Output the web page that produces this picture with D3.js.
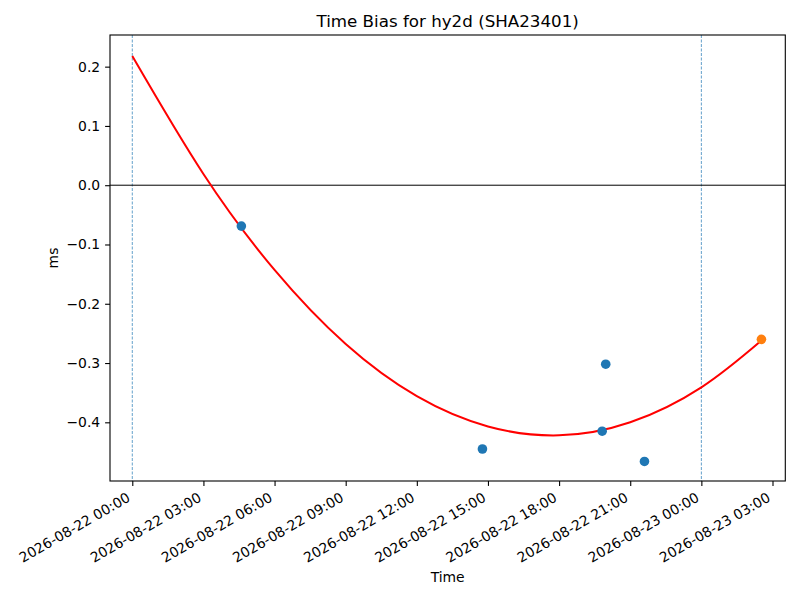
<!DOCTYPE html>
<html>
<head>
<meta charset="utf-8">
<script src="https://cdn.jsdelivr.net/npm/d3@7"></script>
<style>
  body { margin: 0; background: #fff; }
  svg, svg text { font-family: "DejaVu Sans", sans-serif; }
</style>
</head>
<body>
<div id="chart"></div>
<script>
// observations (UTC)
const pointTimes = ["2026-08-22T04:36", "2026-08-22T14:46", "2026-08-22T19:49", "2026-08-22T19:58", "2026-08-22T21:36"];
const pointValues = [-0.069, -0.445, -0.415, -0.302, -0.466];
const lastTime = "2026-08-23T02:32";
const lastValue = -0.260;

// fitted curve
const fitTimes = ["2026-08-22T00:00", "2026-08-22T03:00", "2026-08-22T06:00", "2026-08-22T09:00", "2026-08-22T12:00",
  "2026-08-22T15:00", "2026-08-22T18:00", "2026-08-22T21:00", "2026-08-23T00:00", "2026-08-23T02:32"];
const fitValues = [0.218, 0.019, -0.143, -0.268, -0.356, -0.407, -0.422, -0.400, -0.341, -0.262];

const vlines = ["2026-08-22T00:00", "2026-08-23T00:00"];
const xTicks = ["2026-08-22T00:00", "2026-08-22T03:00", "2026-08-22T06:00", "2026-08-22T09:00", "2026-08-22T12:00",
  "2026-08-22T15:00", "2026-08-22T18:00", "2026-08-22T21:00", "2026-08-23T00:00", "2026-08-23T03:00"];
const yTicks = [0.2, 0.1, 0.0, -0.1, -0.2, -0.3, -0.4];
const xDomain = ["2026-08-21T23:03.6", "2026-08-23T03:32.4"];
const yDomain = [-0.499, 0.2534];

const width = 800, height = 600,
    margin = ({ top: 35, right: 14.7, bottom: 119, left: 110 });

const parseT = s => {
  // minutes may be fractional in the domain strings
  const [d, t] = s.split("T");
  const [h, m] = t.split(":");
  return new Date(Date.UTC(+d.slice(0,4), +d.slice(5,7)-1, +d.slice(8,10), +h, 0) + (+m) * 60000);
};

const svg = d3.select("#chart")
  .append("svg")
  .attr("width", width)
  .attr("height", height);

const x = d3.scaleUtc()
  .domain(xDomain.map(parseT))
  .range([margin.left, width - margin.right]);

const y = d3.scaleLinear()
  .domain(yDomain)
  .range([height - margin.bottom, margin.top]);

const blue = "#1f77b4", orange = "#ff7f0e";

// reference lines
svg.append("g")
  .selectAll("line")
  .data(vlines.map(parseT))
  .join("line")
  .attr("x1", d => x(d)).attr("x2", d => x(d))
  .attr("y1", margin.top).attr("y2", height - margin.bottom)
  .attr("stroke", blue)
  .attr("stroke-width", 0.7)
  .attr("stroke-dasharray", "3,1.5");

svg.append("line")
  .attr("x1", margin.left).attr("x2", width - margin.right)
  .attr("y1", y(0)).attr("y2", y(0))
  .attr("stroke", "black")
  .attr("stroke-width", 1);

// fit curve
const fit = fitTimes.map((t, i) => [parseT(t), fitValues[i]]);
svg.append("path")
  .datum(fit)
  .attr("fill", "none")
  .attr("stroke", "red")
  .attr("stroke-width", 2)
  .attr("d", d3.line().x(d => x(d[0])).y(d => y(d[1])).curve(d3.curveNatural));

// points
svg.append("g")
  .attr("fill", blue)
  .selectAll("circle")
  .data(pointTimes.map((t, i) => [parseT(t), pointValues[i]]))
  .join("circle")
  .attr("cx", d => x(d[0]))
  .attr("cy", d => y(d[1]))
  .attr("r", 4.8);

svg.append("circle")
  .attr("cx", x(parseT(lastTime)))
  .attr("cy", y(lastValue))
  .attr("r", 4.8)
  .attr("fill", orange);

// axes
const fmt = d3.utcFormat("%Y-%m-%d %H:%M");
const xAxis = svg.append("g")
  .attr("transform", `translate(0,${height - margin.bottom})`)
  .call(d3.axisBottom(x).tickValues(xTicks.map(parseT)).tickFormat(fmt).tickSize(4.9).tickPadding(4.9));
xAxis.attr("font-family", null).attr("font-size", null);
xAxis.select(".domain").remove();
xAxis.selectAll(".tick line").attr("stroke-width", 1.1);
xAxis.selectAll(".tick text")
  .attr("font-size", 13.9)
  .attr("fill", "black")
  .attr("text-anchor", "end")
  .attr("y", null).attr("dy", null)
  .attr("transform", "translate(-1.6,19.4) rotate(-30)");

const yAxis = svg.append("g")
  .attr("transform", `translate(${margin.left},0)`)
  .call(d3.axisLeft(y).tickValues(yTicks).tickFormat(d3.format(".1f")).tickSize(4.9).tickPadding(4.9));
yAxis.attr("font-family", null).attr("font-size", null);
yAxis.select(".domain").remove();
yAxis.selectAll(".tick line").attr("stroke-width", 1.1);
yAxis.selectAll(".tick text")
  .attr("font-size", 13.9)
  .attr("fill", "black");

// frame
svg.append("rect")
  .attr("x", margin.left).attr("y", margin.top)
  .attr("width", width - margin.left - margin.right)
  .attr("height", height - margin.top - margin.bottom)
  .attr("fill", "none")
  .attr("stroke", "black")
  .attr("stroke-width", 1.1);

// labels
svg.append("text")
  .attr("x", (margin.left + width - margin.right) / 2)
  .attr("y", 26.7)
  .attr("text-anchor", "middle")
  .attr("font-size", 16.7)
  .text("Time Bias for hy2d (SHA23401)");

svg.append("text")
  .attr("x", (margin.left + width - margin.right) / 2)
  .attr("y", 582)
  .attr("text-anchor", "middle")
  .attr("font-size", 13.9)
  .text("Time");

svg.append("text")
  .attr("transform", `translate(58,${(margin.top + height - margin.bottom) / 2}) rotate(-90)`)
  .attr("text-anchor", "middle")
  .attr("font-size", 13.9)
  .text("ms");
</script>
</body>
</html>
